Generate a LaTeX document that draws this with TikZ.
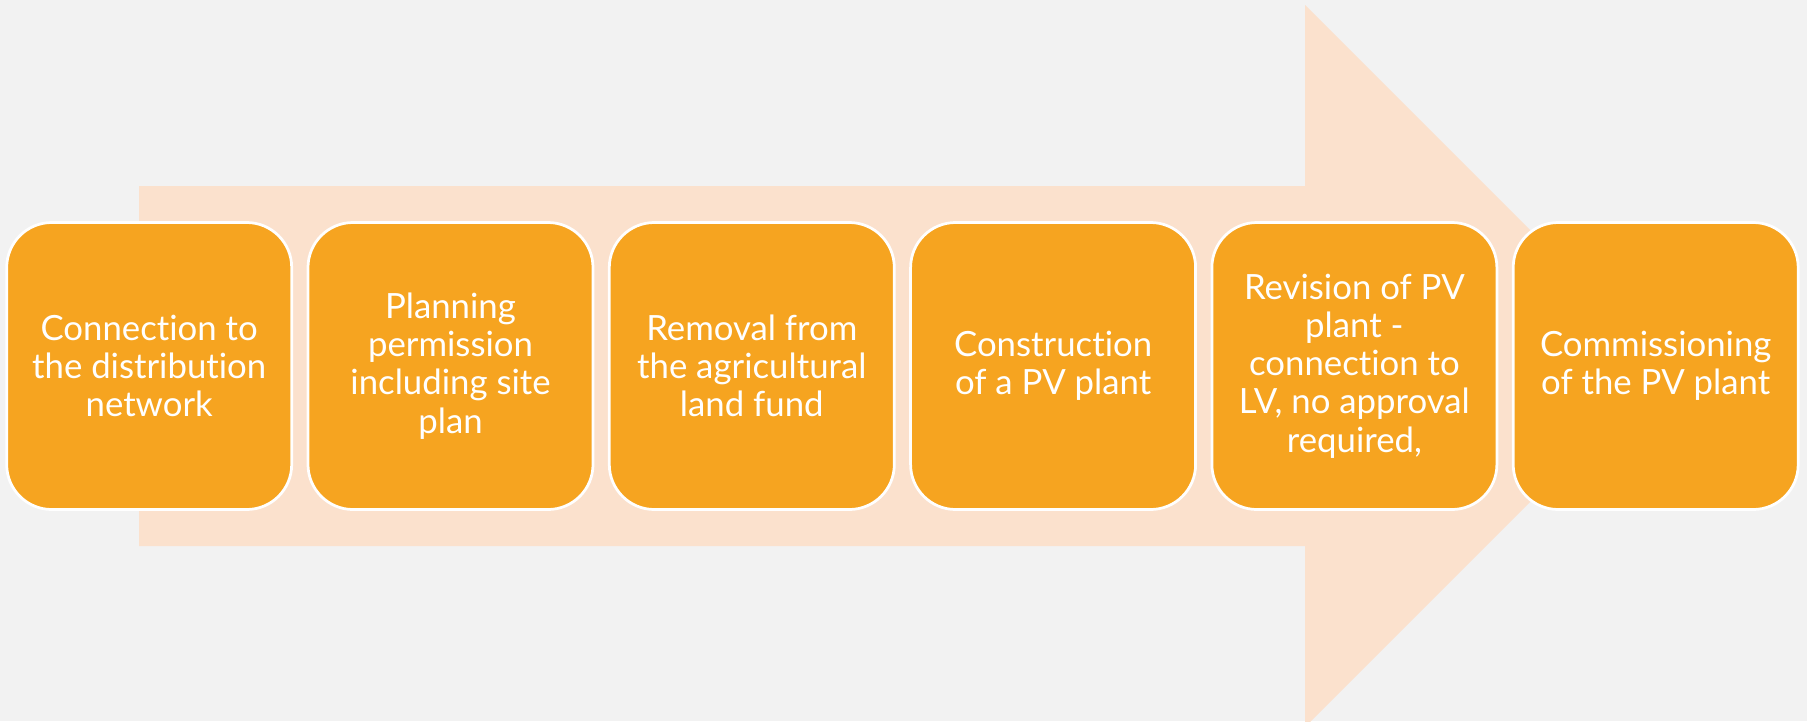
\documentclass[tikz,border=0pt]{standalone}
\usepackage{fontspec}
\setmainfont{Lato}[Ligatures={NoCommon}]
\definecolor{bgc}{RGB}{242,242,242}
\definecolor{arrowc}{RGB}{251,225,205}
\definecolor{boxc}{RGB}{246,164,32}
\begin{document}
\begin{tikzpicture}[x=0.4pt,y=-0.4pt,
  stepbox/.style={rectangle, rounded corners=18pt, fill=boxc, draw=white, line width=1.1pt,
    minimum width=114pt, minimum height=114.8pt, inner sep=0pt, align=center,
    text=white, font=\fontsize{13.9pt}{15.3pt}\selectfont}]
\useasboundingbox (0,0) rectangle (1807,721);
\fill[bgc] (0,0) rectangle (1807,721);
\begin{scope}
\clip (0,0) rectangle (1807,721);
\fill[arrowc] (139,186) -- (1305,186) -- (1305,5) -- (1666,366) -- (1305,727) -- (1305,546) -- (139,546) -- cycle;
\end{scope}
\node[stepbox] (s1) at (149.2,366) {Connection to\\the distribution\\network};
\node[stepbox] (s2) at (450.5,366) {Planning\\permission\\including site\\plan};
\node[stepbox] (s3) at (751.8,366) {Removal from\\the agricultural\\land fund};
\node[stepbox] (s4) at (1053.1,366) {Construction\\of a PV plant};
\node[stepbox] (s5) at (1354.4,366) {Revision of PV\\plant -\\connection to\\LV, no approval\\required,};
\node[stepbox] (s6) at (1655.7,366) {Commissioning\\of the PV plant};
\end{tikzpicture}
\end{document}
